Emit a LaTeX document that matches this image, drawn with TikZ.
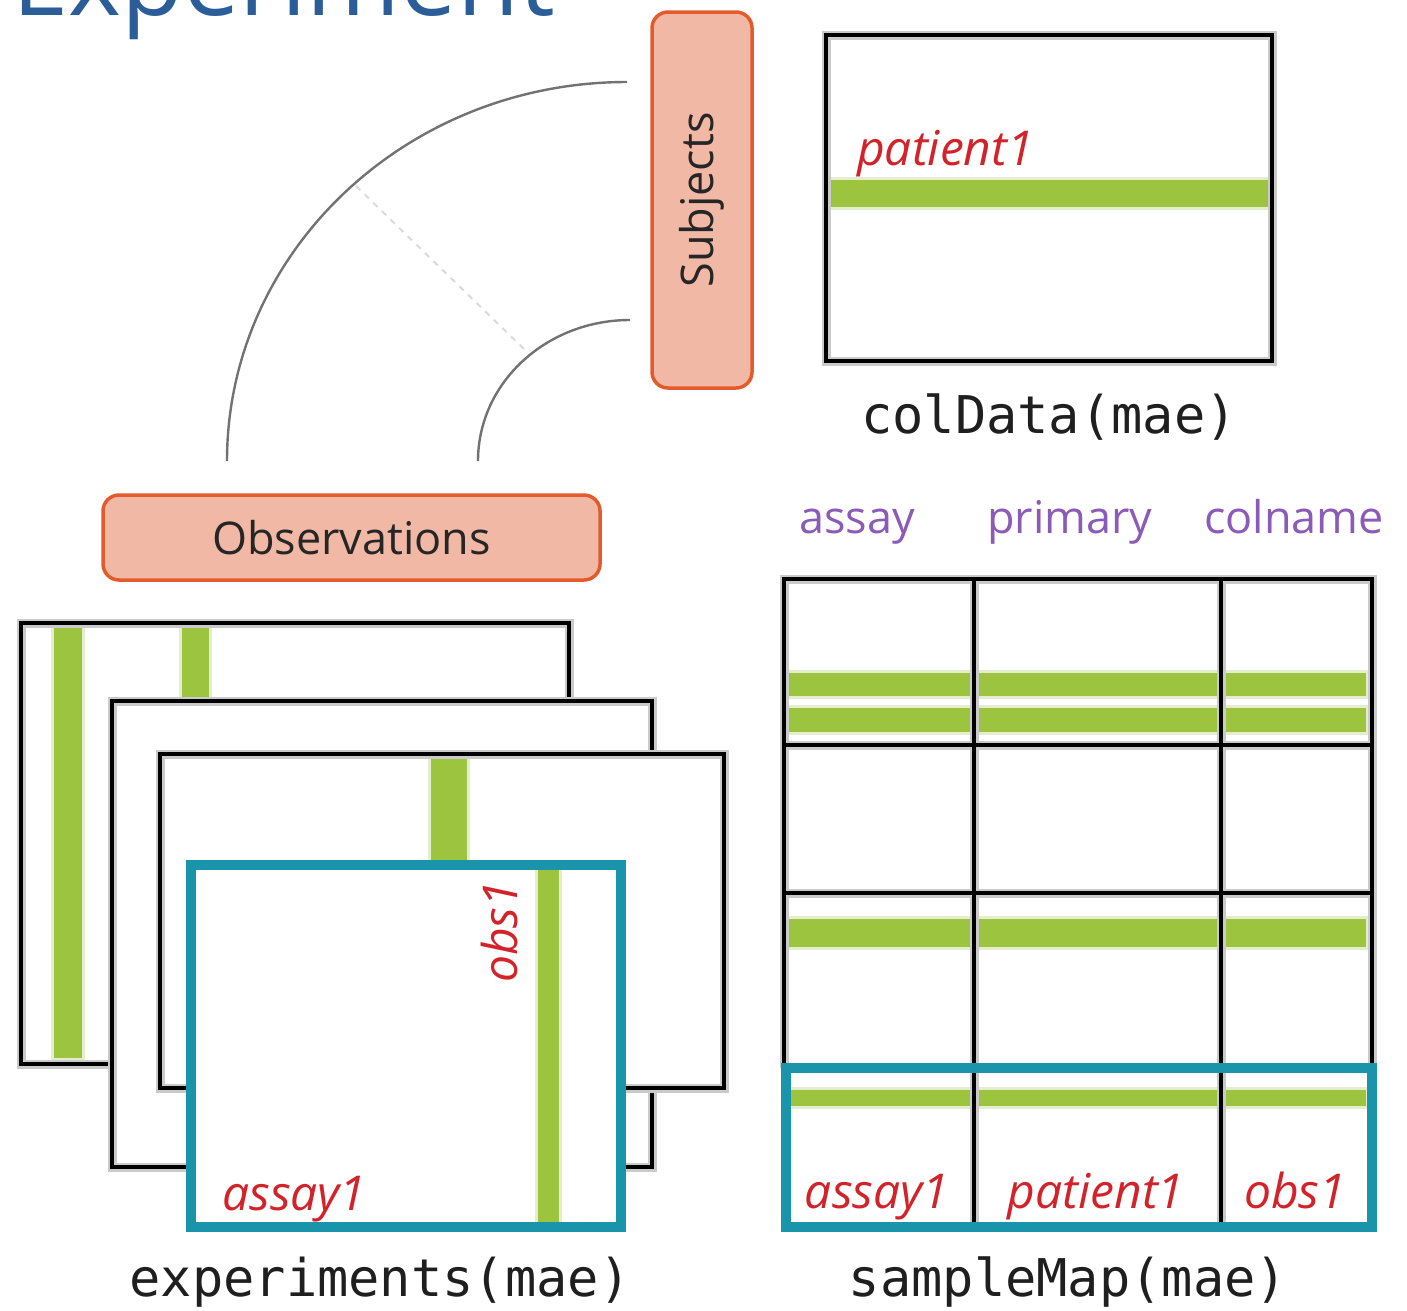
\documentclass[tikz,border=0pt]{standalone}
\usepackage{fontspec}
\setmainfont{Open Sans}
\newfontfamily\codefont{DejaVu Sans Mono}

\definecolor{titleblue}{HTML}{2B5E99}
\definecolor{salmon}{HTML}{F1B9A5}
\definecolor{salmonline}{HTML}{E35A2C}
\definecolor{leaf}{HTML}{9CC43E}
\definecolor{paleleaf}{HTML}{E4EECF}
\definecolor{tealc}{HTML}{1A94AB}
\definecolor{labred}{HTML}{D2232A}
\definecolor{labpurple}{HTML}{8C5BB8}
\definecolor{halo}{HTML}{CACACA}
\definecolor{arcgray}{HTML}{727272}

% green highlight band: x1, y1, x2, y2
\newcommand\leafband[4]{%
  \fill[paleleaf] (#1-3,#2-3) rectangle (#3+3,#4+3);
  \fill[leaf] (#1,#2) rectangle (#3,#4);}

\begin{document}
\begin{tikzpicture}[x=1pt,y=-1pt,
  catbox/.style={draw=salmonline, fill=salmon, line width=3.5pt, rounded corners=16pt,
    font=\fontsize{45}{54}\selectfont, text=black!85, inner sep=0pt},
  rim/.style={draw=halo, line width=9pt},
  ink/.style={draw=black, line width=4.5pt},
  tealrim/.style={draw=tealc, line width=10pt},
  codelab/.style={font=\codefont\fontsize{52}{60}\selectfont, text=black!88, inner sep=0pt, anchor=base},
  redtxt/.style={font=\itshape\fontsize{48}{56}\selectfont, text=labred, inner sep=0pt},
  purtxt/.style={font=\fontsize{45}{54}\selectfont, text=labpurple, inner sep=0pt, anchor=base},
  arcline/.style={draw=arcgray, line width=2.4pt},
  radial/.style={draw=black!14, line width=2pt, dash pattern=on 6pt off 6pt}]

\useasboundingbox (0,0) rectangle (1407,1310);
\clip (0,0) rectangle (1407,1310);

% heading, mostly above the top edge
\node[anchor=base west, inner sep=0pt, text=titleblue, font=\fontsize{101}{110}\selectfont]
  (title) at (12,15) {Experiment};

% arcs joining the two categories
\coordinate (bigA) at (227,461);
\coordinate (bigB) at (627,82);
\coordinate (smA) at (478,461);
\coordinate (smB) at (630,320);
\coordinate (radA) at (356,186);
\coordinate (radB) at (524,349);
\draw[radial] (radA) -- (radB);
\draw[arcline] (bigA) .. controls +(0,-209) and +(-221,0) .. (bigB);
\draw[arcline] (smA) .. controls +(0,-78) and +(-84,0) .. (smB);

% category boxes
\node[catbox, rotate=90, minimum width=376pt, minimum height=100pt] (subj) at (702,200) {Subjects};
\node[catbox, minimum width=497pt, minimum height=85pt] (obsv) at (351.5,537.5) {Observations};

% colData table
\fill[white] (826,35) rectangle (1272,361);
\leafband{826}{180}{1270}{207}
\draw[rim] (826,35) rectangle (1272,361);
\draw[ink] (826,35) rectangle (1272,361);
\node[redtxt, anchor=base west] (pat) at (857,165) {patient1};
\node[codelab] (cdlab) at (1049,433) {colData(mae)};

% experiments: stacked assays
\fill[white] (21,623) rectangle (569,1064);
\leafband{54}{623}{82}{1058}
\leafband{182}{623}{209}{1058}
\draw[rim] (21,623) rectangle (569,1064);
\draw[ink] (21,623) rectangle (569,1064);

\fill[white] (112,701) rectangle (652,1167);
\draw[rim] (112,701) rectangle (652,1167);
\draw[ink] (112,701) rectangle (652,1167);

\fill[white] (160,754) rectangle (724,1088);
\leafband{431}{754}{467}{1060}
\draw[rim] (160,754) rectangle (724,1088);
\draw[ink] (160,754) rectangle (724,1088);

\fill[white] (191,865) rectangle (621,1227);
\leafband{538}{865}{559}{1227}
\draw[tealrim] (191,865) rectangle (621,1227);
\node[redtxt, rotate=90, anchor=base] (obsa) at (517,932) {obs1};
\node[redtxt, anchor=base west] (assa) at (222,1210) {assay1};
\node[codelab] (exlab) at (380,1296) {experiments(mae)};

% sampleMap table
\node[purtxt] (hassay) at (857,533) {assay};
\node[purtxt] (hprim) at (1070,533) {primary};
\node[purtxt] (hcol) at (1294,533) {colname};

\leafband{786}{673}{1366}{696}
\leafband{786}{708}{1366}{732}
\leafband{786}{919}{1366}{947}
\leafband{786}{1090}{1366}{1106}

\foreach \sty in {rim,ink}{
  \draw[\sty] (784,1068) -- (784,579) -- (1372,579) -- (1372,1068);
  \draw[\sty] (784,745) -- (1372,745);
  \draw[\sty] (784,893) -- (1372,893);
  \draw[\sty] (974,579) -- (974,1227);
  \draw[\sty] (1221,579) -- (1221,1227);
}
\draw[tealrim] (786,1068) rectangle (1372,1227);

\node[redtxt, anchor=base] (sma) at (877,1208) {assay1};
\node[redtxt, anchor=base] (smp) at (1096,1208) {patient1};
\node[redtxt, anchor=base] (smo) at (1295,1208) {obs1};
\node[codelab] (smlab) at (1068,1296) {sampleMap(mae)};

\end{tikzpicture}
\end{document}
